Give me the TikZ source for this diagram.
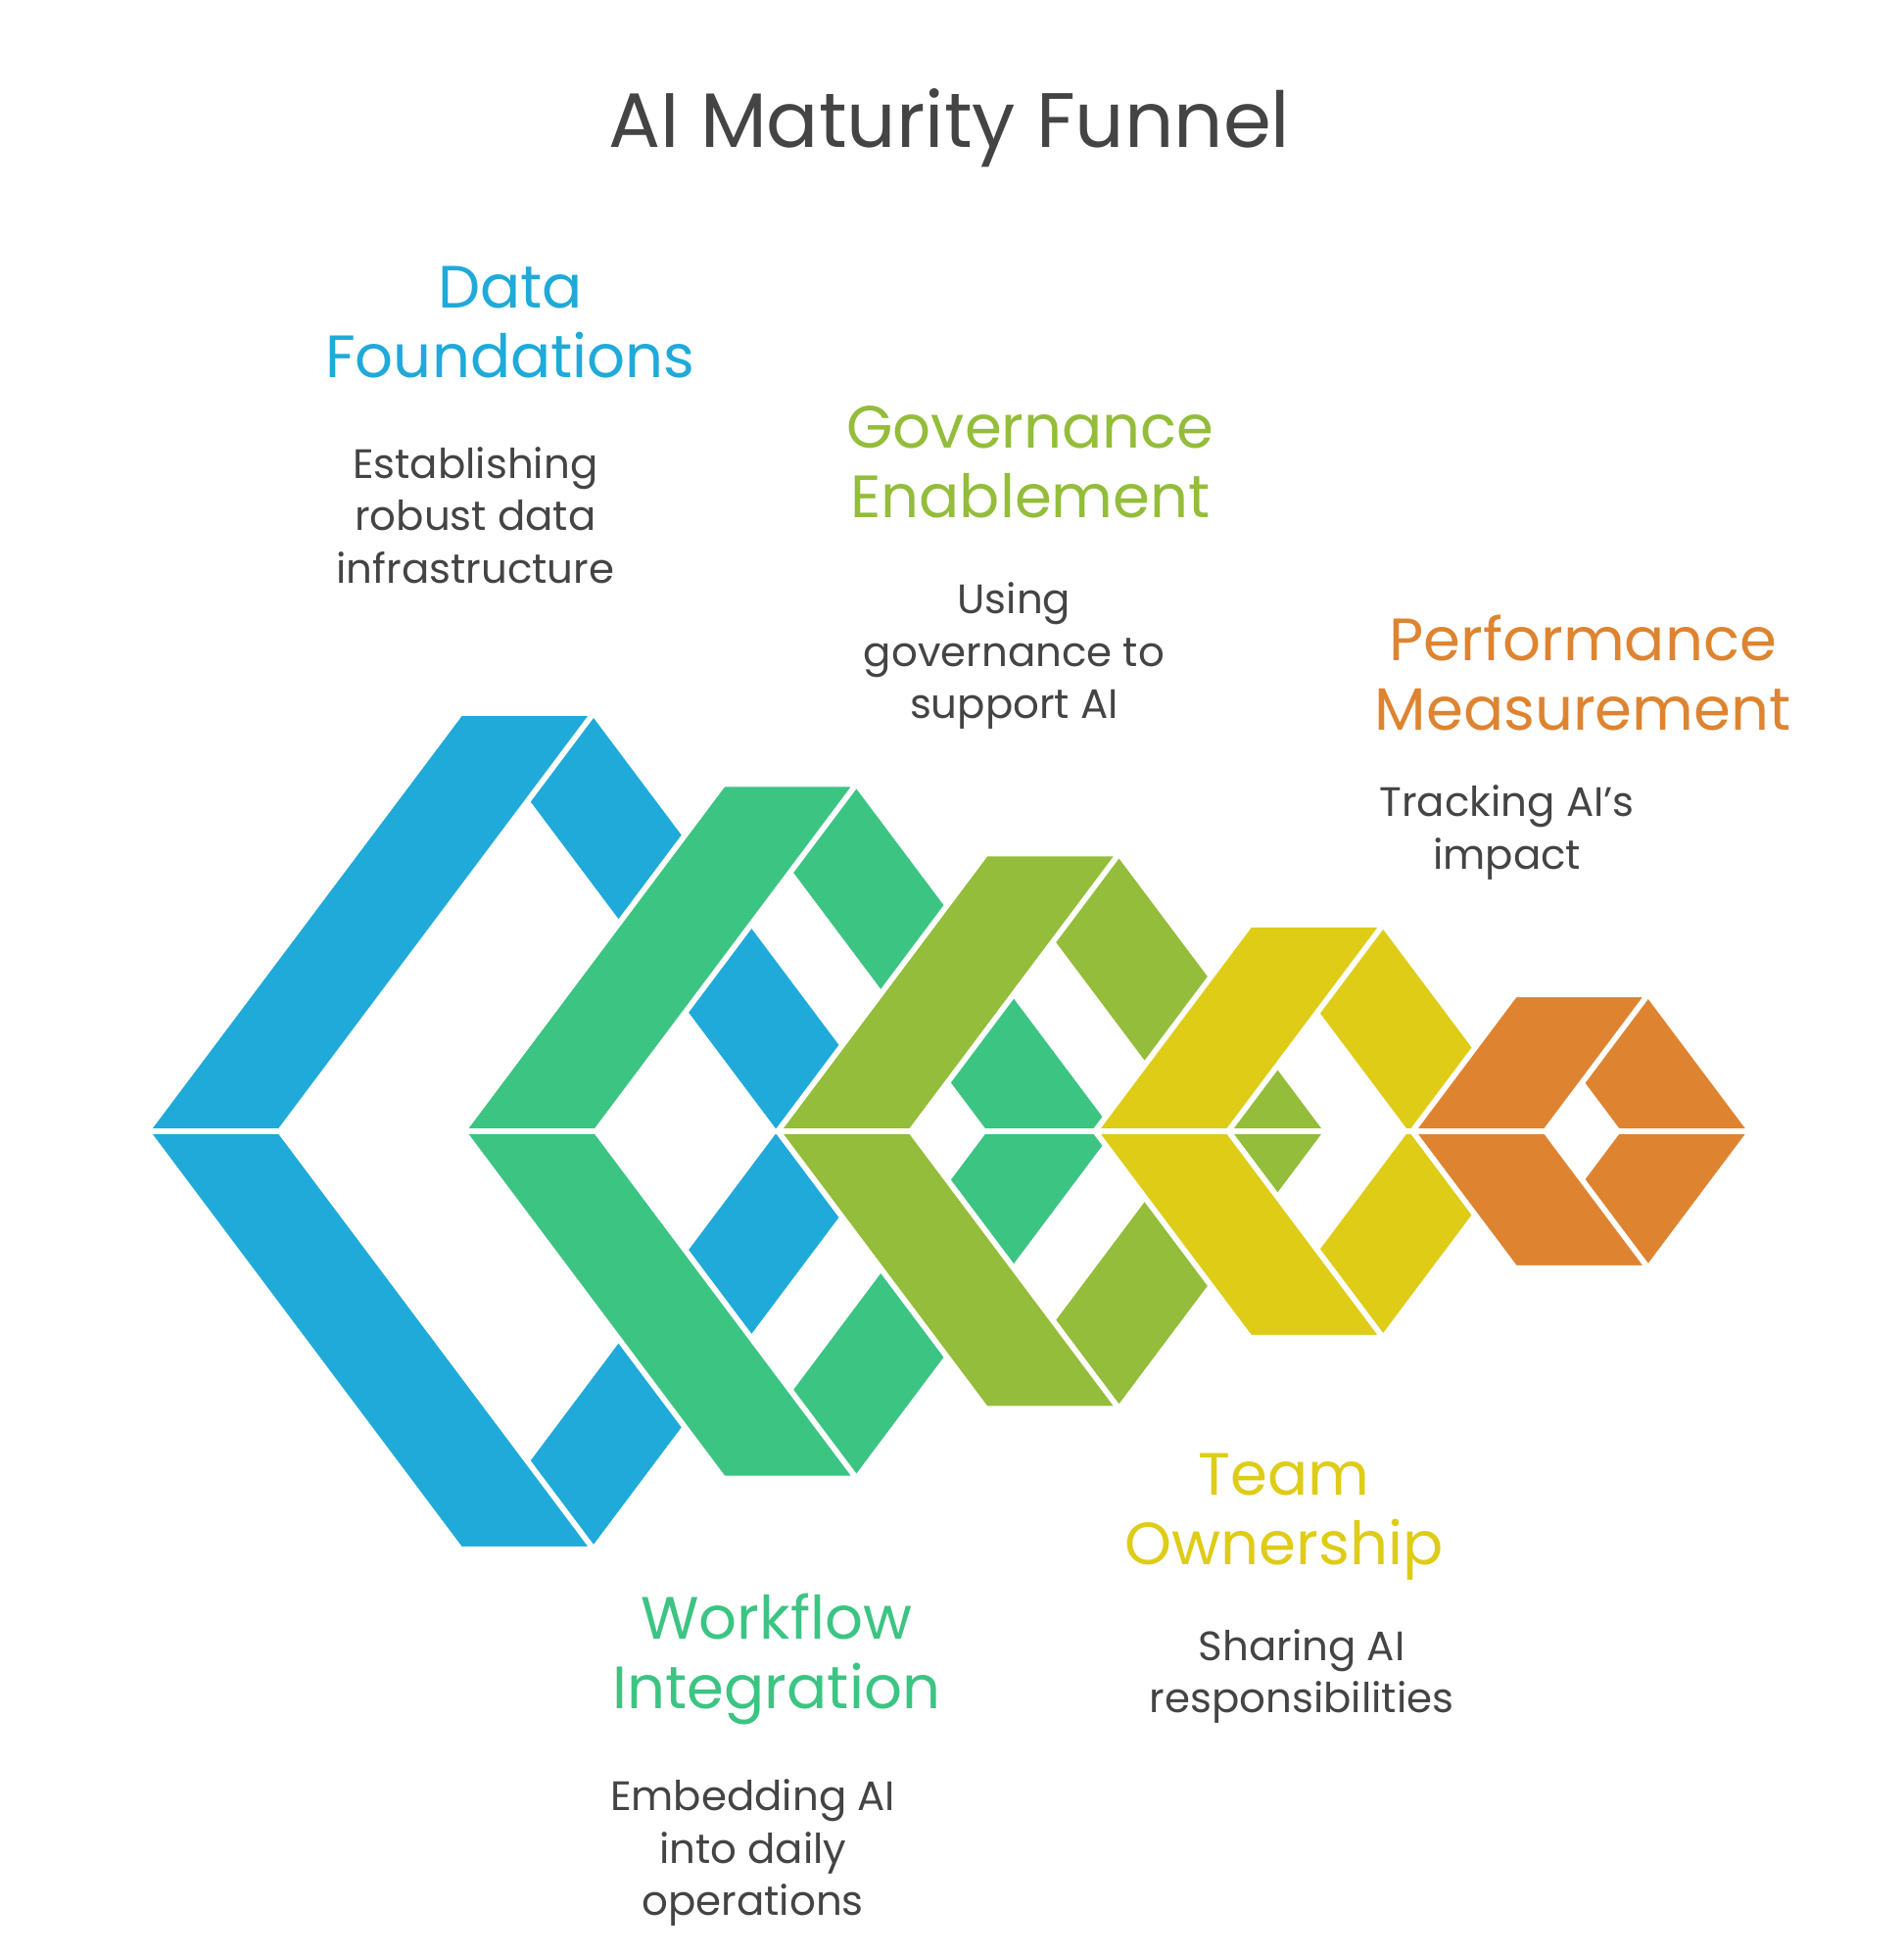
\documentclass[tikz,border=0pt]{standalone}
\usepackage{fontspec}
\setmainfont{Poppins}
\definecolor{cb}{HTML}{1FAAD9}
\definecolor{cg}{HTML}{3CC483}
\definecolor{co}{HTML}{93BD3A}
\definecolor{cy}{HTML}{DECC17}
\definecolor{cr}{HTML}{DE8431}
\definecolor{tx}{HTML}{444444}
\newcommand\rarmX[3]{%
 \pgfmathsetmacro\xa{#1+0.75*#2}\pgfmathsetmacro\xb{#1+0.75*#2+107}%
 \pgfmathsetmacro\xc{#1+1.5*#2+107}\pgfmathsetmacro\xd{#1+1.5*#2}%
 \pgfmathsetmacro\yt{909-#2}\pgfmathsetmacro\yb{909+#2}%
 \filldraw[arm,fill=#3] (\xa,\yt)--(\xb,\yt)--(\xc,909)--(\xd,909)--cycle;
 \filldraw[arm,fill=#3] (\xa,\yb)--(\xb,\yb)--(\xc,909)--(\xd,909)--cycle;}
\newcommand\larmX[3]{%
 \pgfmathsetmacro\xa{#1+0.75*#2}\pgfmathsetmacro\xb{#1+0.75*#2+107}%
 \pgfmathsetmacro\xc{#1+107}%
 \pgfmathsetmacro\yt{909-#2}\pgfmathsetmacro\yb{909+#2}%
 \filldraw[arm,fill=#3] (#1,909)--(\xc,909)--(\xb,\yt)--(\xa,\yt)--cycle;
 \filldraw[arm,fill=#3] (#1,909)--(\xc,909)--(\xb,\yb)--(\xa,\yb)--cycle;}
\begin{document}
\begin{tikzpicture}[x=1pt,y=-1pt,
 arm/.style={draw=white,line width=4.5pt,line join=miter},
 ttl/.style={font=\fontsize{62}{70}\selectfont,text=tx},
 hd/.style={font=\fontsize{48}{56}\selectfont,align=center},
 bd/.style={font=\fontsize{33}{42}\selectfont,align=center,text=tx}]
\useasboundingbox[fill=white] (0,0) rectangle (1530,1571);
\rarmX{118}{336}{cb}\rarmX{372}{279}{cg}\rarmX{625}{223}{co}\rarmX{880}{166}{cy}\rarmX{1135}{110}{cr}
\larmX{118}{336}{cb}\larmX{372}{279}{cg}\larmX{625}{223}{co}\larmX{880}{166}{cy}\larmX{1135}{110}{cr}
\node[ttl] (title) at (763,103) {AI Maturity Funnel};
\node[hd,text=cb] (h1) at (410,259) {Data\\Foundations};
\node[bd] (b1) at (382,414) {Establishing\\robust data\\infrastructure};
\node[hd,text=co] (h2) at (828,371) {Governance\\Enablement};
\node[bd] (b2) at (815,527) {Using\\governance to\\support AI};
\node[hd,text=cr] (h3) at (1272,541) {Performance\\Measurement};
\node[bd] (b3) at (1211,669) {Tracking AI's\\impact};
\node[hd,text=cg] (h4) at (624,1333) {Workflow\\Integration};
\node[bd] (b4) at (605,1489) {Embedding AI\\into daily\\operations};
\node[hd,text=cy] (h5) at (1032,1219) {Team\\Ownership};
\node[bd] (b5) at (1046,1347) {Sharing AI\\responsibilities};
\end{tikzpicture}
\end{document}
